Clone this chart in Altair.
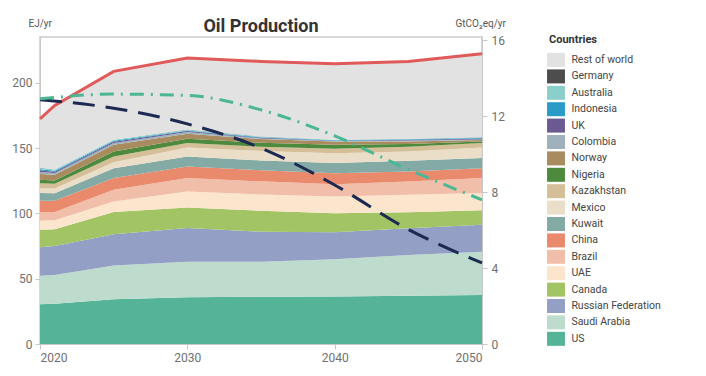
import altair as alt
import pandas as pd

years = [2020, 2021, 2025, 2030, 2035, 2040, 2045, 2050]

# stack order bottom -> top
us = [30.4, 30.9, 34.2, 35.8, 36.2, 36.3, 37.0, 37.5]
saudi = [21.9, 22.0, 25.8, 27.2, 26.8, 28.6, 31.2, 33.2]
russia = [21.8, 22.1, 24.0, 25.7, 23.0, 20.7, 20.4, 20.5]
canada = [13.3, 12.8, 17.0, 15.8, 16.0, 14.5, 12.3, 11.1]
uae = [7.1, 6.9, 8.0, 12.2, 12.5, 12.8, 13.3, 13.2]
brazil = [6.4, 6.3, 9.0, 10.3, 10.0, 9.4, 10.2, 11.5]
china = [8.7, 8.6, 9.0, 8.9, 8.5, 8.5, 7.6, 7.6]
kuwait = [5.9, 5.7, 7.6, 7.6, 7.5, 7.7, 8.2, 7.7]
mexico = [3.8, 3.7, 4.5, 6.9, 7.3, 7.6, 7.2, 8.1]
kazakhstan = [3.8, 3.7, 4.4, 3.4, 3.2, 3.3, 3.6, 3.4]
nigeria = [2.6, 2.5, 3.9, 3.3, 3.0, 3.1, 2.0, 1.2]
norway = [4.5, 4.3, 5.1, 3.8, 2.9, 2.5, 2.0, 1.1]
colombia = [1.4, 1.4, 1.3, 1.3, 0.5, 0.3, 0.8, 0.5]
uk = [1.2, 1.0, 1.0, 0.8, 0.4, 0.3, 0.5, 0.5]
indonesia = [1.0, 0.8, 0.8, 0.5, 0.4, 0.3, 0.4, 0.5]
australia = [1.0, 0.8, 0.7, 0.5, 0.5, 0.4, 0.4, 0.5]
germany = [0.1, 0.1, 0.1, 0.1, 0.1, 0.1, 0.1, 0.1]
rest_of_world = [37.5, 49.0, 52.3, 54.8, 57.5, 58.2, 59.1, 64.0]

total_line = [172.4, 182.6, 208.7, 218.9, 216.3, 214.6, 216.3, 222.2]

line_years = [2020, 2025, 2030, 2035, 2040, 2045, 2050]
navy_emissions = [12.87, 12.43, 11.6, 10.33, 8.38, 6.04, 4.27]
teal_emissions = [12.92, 13.17, 13.1, 12.34, 10.97, 9.2, 7.6]

stack_names = ["US", "Saudi Arabia", "Russian Federation", "Canada", "UAE", "Brazil",
               "China", "Kuwait", "Mexico", "Kazakhstan", "Nigeria", "Norway",
               "Colombia", "UK", "Indonesia", "Australia", "Germany", "Rest of world"]
stack_values = [us, saudi, russia, canada, uae, brazil, china, kuwait, mexico,
                kazakhstan, nigeria, norway, colombia, uk, indonesia, australia,
                germany, rest_of_world]
stack_colors = ["#55b398", "#bddccd", "#939fc4", "#a3c465", "#fce5cd", "#f1bfa9",
                "#ea8a6c", "#83aaa5", "#ebdec8", "#d4bf98", "#4e8a3d", "#a88c5f",
                "#9fb1bd", "#6b5a92", "#2a9bc7", "#8bcfcb", "#4d4d4d", "#e2e2e2"]

rows = []
for i, (name, vals) in enumerate(zip(stack_names, stack_values)):
    for y, v in zip(years, vals):
        rows.append({"year": y, "country": name, "value": v, "ord": i})
df = pd.DataFrame(rows)

legend_order = stack_names[::-1]
legend_colors = stack_colors[::-1]

df_total = pd.DataFrame({"year": years, "value": total_line})
df_navy = pd.DataFrame({"year": line_years, "em": navy_emissions})
df_teal = pd.DataFrame({"year": line_years, "em": teal_emissions})

FONT = "Roboto"
x_enc = alt.X("year:Q", scale=alt.Scale(domain=[2020, 2050], nice=False),
              axis=alt.Axis(values=[2020, 2030, 2040, 2050], format="d", title=None,
                            grid=False, labelFontSize=12, labelColor="#707070",
                            tickSize=5, labelPadding=3))
y_left = alt.Y("value:Q", stack="zero", scale=alt.Scale(domain=[0, 235], nice=False),
               axis=alt.Axis(values=[0, 50, 100, 150, 200], title="EJ/yr", titleAngle=0,
                             titleAlign="left", titleBaseline="bottom", titleX=-12,
                             titleY=-9, titleFontSize=10, titleFontWeight="normal",
                             titleColor="#555", grid=False, labelFontSize=12,
                             labelColor="#707070", tickSize=5, labelPadding=3))
y_right = alt.Y("em:Q", scale=alt.Scale(domain=[0, 16.18], nice=False),
                axis=alt.Axis(orient="right", values=[0, 4, 8, 12, 16], title="GtCO₂eq/yr",
                              titleAngle=0, titleAlign="left", titleBaseline="bottom",
                              titleX=-27, titleY=-9, titleFontSize=10,
                              titleFontWeight="normal", titleColor="#555", grid=False,
                              labelFontSize=12, labelColor="#707070", tickSize=5,
                              labelPadding=4))

area = alt.Chart(df).mark_area(interpolate="linear", opacity=1).encode(
    x=x_enc,
    y=y_left,
    color=alt.Color("country:N",
                    scale=alt.Scale(domain=legend_order, range=legend_colors),
                    legend=alt.Legend(title="Countries", orient="none", legendX=509,
                                      legendY=-3, titleFontSize=11, titleFontWeight="bold",
                                      titleColor="#333", titlePadding=8, labelFontSize=10.5,
                                      labelColor="#444", symbolType="M-1.28,-1L1.28,-1L1.28,1L-1.28,1Z",
                                      symbolSize=196, symbolStrokeWidth=0, symbolOpacity=1,
                                      rowPadding=2.4, labelOffset=8.4, padding=0)),
    order=alt.Order("ord:Q", sort="ascending"),
)

red = alt.Chart(df_total).mark_line(color="#e05a5a", strokeWidth=3).encode(
    x=x_enc, y=y_left)

navy = alt.Chart(df_navy).mark_line(color="#1c2a52", strokeWidth=3, strokeDash=[22, 11],
                                    interpolate="monotone").encode(x=x_enc, y=y_right)
teal = alt.Chart(df_teal).mark_line(color="#4cb794", strokeWidth=3,
                                    strokeDash=[14, 7, 2, 7],
                                    interpolate="monotone").encode(x=x_enc, y=y_right)

left = alt.layer(area, red)
right = alt.layer(navy, teal)

chart = alt.layer(left, right).resolve_scale(y="independent").properties(
    width=442, height=307,
    title=alt.TitleParams("Oil Production", fontSize=18, fontWeight="bold", color="#333",
                          anchor="middle", offset=-18, font=FONT),
    padding={"left": 40, "top": 37, "right": 224, "bottom": 32},
    autosize=alt.AutoSizeParams(type="none"),
).configure(font=FONT).configure_view(stroke="#cccccc", strokeWidth=1.5).configure_axis(
    domainColor="#c8c8c8", tickColor="#c8c8c8", labelFont=FONT, titleFont=FONT
).configure_legend(labelFont=FONT, titleFont=FONT)

chart.save("out.html", embed_options={"renderer": "svg", "actions": False})
